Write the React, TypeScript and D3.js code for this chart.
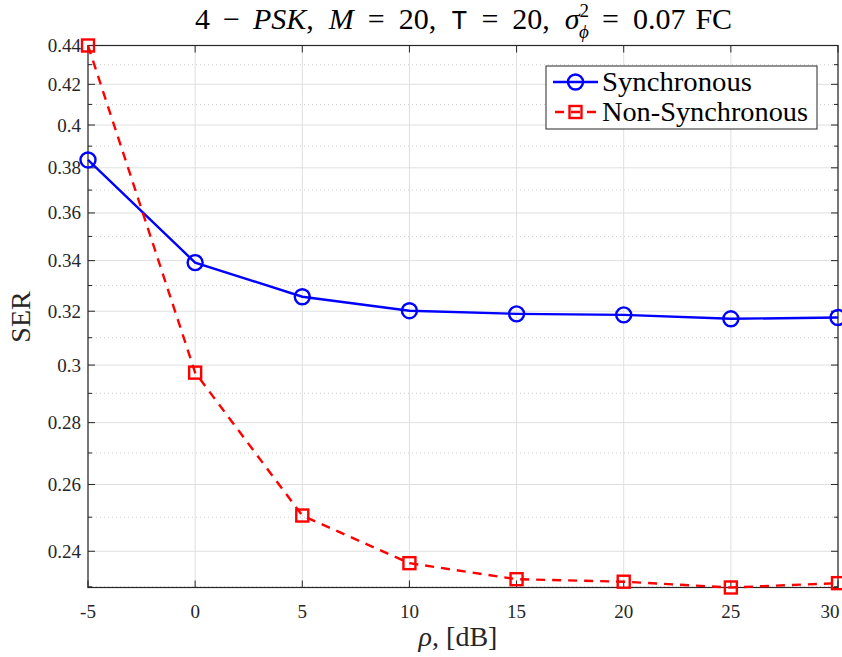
import React from "react";
import * as d3 from "d3";

const snrDb = [-5, 0, 5, 10, 15, 20, 25, 30];
const serSync = [0.3836, 0.3392, 0.3256, 0.3202, 0.319, 0.3186, 0.3171, 0.3176];
const serNonSync = [0.44, 0.2973, 0.2505, 0.2366, 0.2321, 0.2314, 0.2298, 0.231];
const xTicks = [-5, 0, 5, 10, 15, 20, 25, 30];
const yTicks = [0.24, 0.26, 0.28, 0.3, 0.32, 0.34, 0.36, 0.38, 0.4, 0.42, 0.44];
const yMinor = [0.23, 0.25, 0.27, 0.29, 0.31, 0.33, 0.35, 0.37, 0.39, 0.41, 0.43];

const W = 842, H = 657;
const L = 88, R = 838, T = 45.5, B = 587.5;
const AX = "#262626";
const GRID = "#dfdfdf";
const SERIF = "'Liberation Serif', 'DejaVu Serif', serif";
const MONO = "'Liberation Mono', 'DejaVu Sans Mono', monospace";

export default function App() {
  const allVals = [...serSync, ...serNonSync];
  const x = d3.scaleLinear().domain([-5, 30]).range([L, R]);
  const y = d3.scaleLog().domain([d3.min(allVals)!, d3.max(allVals)!]).range([B, T]);
  const line = d3.line<number>().x((_, i) => x(snrDb[i])).y((d) => y(d));

  return (
    <svg width={W} height={H} style={{ position: "absolute", left: 0, top: 0, background: "#fff" }} fontFamily={SERIF}>
      <rect x={0} y={0} width={W} height={H} fill="#fff" />
      {/* minor grid */}
      {yMinor.map((v) => (
        <line key={"ym" + v} x1={L} x2={R} y1={y(v)} y2={y(v)} stroke="#cfcfcf" strokeWidth={1} strokeDasharray="1,3" />
      ))}
      {/* major grid */}
      {yTicks.map((v) => (
        <line key={"yg" + v} x1={L} x2={R} y1={y(v)} y2={y(v)} stroke={GRID} strokeWidth={1} />
      ))}
      {xTicks.map((v) => (
        <line key={"xg" + v} x1={x(v)} x2={x(v)} y1={T} y2={B} stroke={GRID} strokeWidth={1} />
      ))}
      {/* box */}
      <rect x={L} y={T} width={R - L} height={B - T} fill="none" stroke={AX} strokeWidth={1.2} />
      {/* ticks */}
      {xTicks.map((v) => (
        <g key={"xt" + v}>
          <line x1={x(v)} x2={x(v)} y1={B} y2={B - 7} stroke={AX} strokeWidth={1} />
          <line x1={x(v)} x2={x(v)} y1={T} y2={T + 7} stroke={AX} strokeWidth={1} />
          <text x={Math.min(x(v), W - 12)} y={618} textAnchor="middle" fontSize={19} fill={AX}>{v}</text>
        </g>
      ))}
      {yTicks.map((v) => (
        <g key={"yt" + v}>
          <line x1={L} x2={L + 7} y1={y(v)} y2={y(v)} stroke={AX} strokeWidth={1} />
          <line x1={R} x2={R - 7} y1={y(v)} y2={y(v)} stroke={AX} strokeWidth={1} />
          <text x={81} y={y(v) + 6.5} textAnchor="end" fontSize={19} fill={AX}>{String(v)}</text>
        </g>
      ))}
      {yMinor.map((v) => (
        <g key={"ymt" + v}>
          <line x1={L} x2={L + 4} y1={y(v)} y2={y(v)} stroke={AX} strokeWidth={1} />
          <line x1={R} x2={R - 4} y1={y(v)} y2={y(v)} stroke={AX} strokeWidth={1} />
        </g>
      ))}
      {/* series */}
      <path d={line(serSync)!} fill="none" stroke="#0000ff" strokeWidth={2.4} />
      {serSync.map((v, i) => (
        <circle key={"c" + i} cx={x(snrDb[i])} cy={y(v)} r={7.5} fill="none" stroke="#0000ff" strokeWidth={2.4} />
      ))}
      <path d={line(serNonSync)!} fill="none" stroke="#ff0000" strokeWidth={2.4} strokeDasharray="9,7" />
      {serNonSync.map((v, i) => (
        <rect key={"s" + i} x={x(snrDb[i]) - 6} y={y(v) - 6} width={12} height={12} fill="none" stroke="#ff0000" strokeWidth={2.4} />
      ))}
      {/* legend */}
      <rect x={546} y={66} width={271} height={63} fill="#fff" stroke={AX} strokeWidth={1} />
      <line x1={553} x2={598} y1={82} y2={82} stroke="#0000ff" strokeWidth={2.4} />
      <circle cx={575.5} cy={82} r={7.5} fill="none" stroke="#0000ff" strokeWidth={2.4} />
      <text x={602} y={91} fontSize={27} fill="#000" textLength={150} lengthAdjust="spacingAndGlyphs">Synchronous</text>
      <line x1={553} x2={598} y1={112} y2={112} stroke="#ff0000" strokeWidth={2.4} strokeDasharray="9,7" strokeDashoffset={-2} />
      <rect x={569.5} y={106} width={12} height={12} fill="none" stroke="#ff0000" strokeWidth={2.4} />
      <text x={602} y={121} fontSize={27} fill="#000" textLength={206} lengthAdjust="spacingAndGlyphs">Non-Synchronous</text>
      {/* title */}
      <text x={195} y={29} fontSize={30} fill="#000">
        <tspan>4</tspan>
        <tspan dx={13}>−</tspan>
        <tspan dx={13} fontStyle="italic">PSK</tspan>
        <tspan>,</tspan>
        <tspan dx={15} fontStyle="italic">M</tspan>
        <tspan dx={14}>=</tspan>
        <tspan dx={14}>20,</tspan>
        <tspan dx={15} fontFamily={MONO} fontSize={27}>T</tspan>
        <tspan dx={14}>=</tspan>
        <tspan dx={14}>20,</tspan>
        <tspan dx={15} fontStyle="italic">σ</tspan>
        <tspan fontSize={19} dy={-12}>2</tspan>
        <tspan fontSize={19} fontStyle="italic" dx={-10} dy={21}>ϕ</tspan>
        <tspan dx={13} dy={-9}>=</tspan>
        <tspan dx={14}>0.07</tspan>
        <tspan dx={10}>FC</tspan>
      </text>
      {/* axis labels */}
      <text x={458} y={646} textAnchor="middle" fontSize={28} fill={AX}>
        <tspan fontStyle="italic">ρ</tspan>
        <tspan>, [dB]</tspan>
      </text>
      <text transform={`translate(30,317) rotate(-90)`} textAnchor="middle" fontSize={28} fill={AX}>SER</text>
    </svg>
  );
}
